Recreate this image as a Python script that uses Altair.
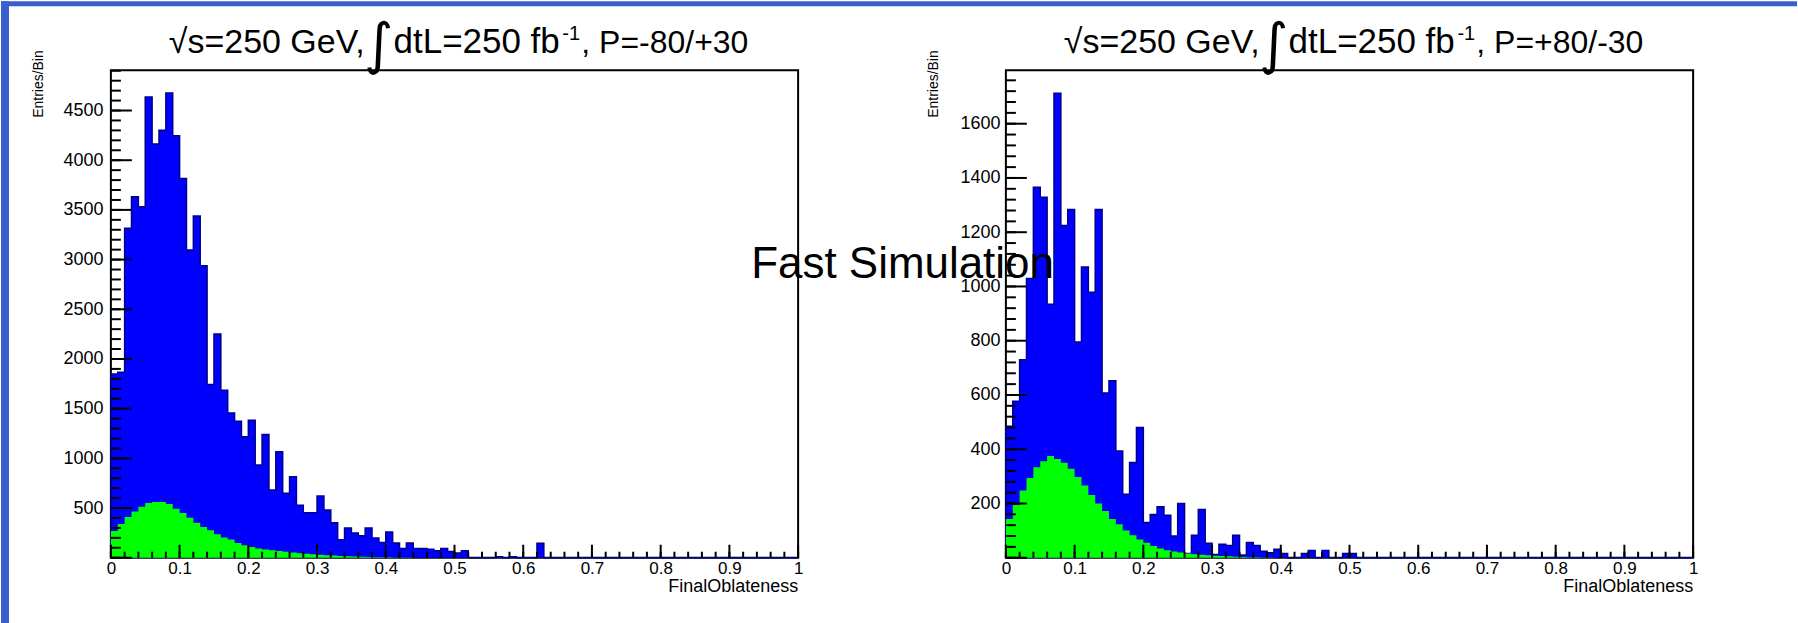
import altair as alt
import pandas as pd

# ---------------- data ----------------
n_bins = 100
x_range = [0.0, 1.0]

left_total = [1849, 1866, 3315, 3633, 3532, 4637, 4162, 4302, 4677, 4245,
              3817, 3097, 3439, 2937, 1742, 2251, 1685, 1457, 1374, 1217,
              1384, 932, 1240, 681, 1066, 648, 815, 527, 453, 453,
              621, 480, 353, 182, 299, 249, 222, 299, 199, 152,
              259, 149, 92, 149, 92, 92, 85, 69, 92, 62,
              48, 69, 0, 0, 0, 0, 10, 0, 10, 0,
              0, 0, 145, 0, 0, 0, 0, 0, 0, 0] + [0] * 30
left_signal = [270, 340, 410, 465, 512, 550, 562, 560, 540, 494,
               450, 403, 353, 309, 276, 236, 203, 183, 149, 126,
               109, 92, 82, 75, 68, 60, 52, 45, 40, 35,
               30, 26, 22, 18, 15, 12, 10, 8, 6, 5,
               4, 3, 2, 2, 1, 1] + [0] * 54

right_total = [485, 577, 730, 1029, 1366, 1329, 934, 1712, 1225, 1284,
               795, 1072, 979, 1284, 607, 652, 393, 234, 351, 480,
               130, 159, 188, 157, 80, 200, 16, 83, 178, 53,
               12, 50, 45, 83, 10, 56, 45, 24, 18, 31,
               16, 0, 0, 16, 27, 0, 27, 0, 0, 16,
               16] + [0] * 49
right_signal = [143, 194, 248, 294, 334, 356, 375, 364, 350, 328,
                298, 266, 231, 200, 172, 143, 123, 100, 83, 67,
                55, 43, 34, 28, 23, 19, 16, 13, 11, 9,
                7, 6, 5, 4, 3, 2, 2, 1, 1] + [0] * 61

left_ymax = 4905
right_ymax = 1797
left_ylabels = [500, 1000, 1500, 2000, 2500, 3000, 3500, 4000, 4500]
right_ylabels = [200, 400, 600, 800, 1000, 1200, 1400, 1600]
x_labels = [0, 0.1, 0.2, 0.3, 0.4, 0.5, 0.6, 0.7, 0.8, 0.9, 1]

left_title = ["√s=250 GeV,", "∫", "dtL=250 fb", "-1", ", P=-80/+30"]
right_title = ["√s=250 GeV,", "∫", "dtL=250 fb", "-1", ", P=+80/-30"]
x_title = ["FinalOblateness"]
y_title = ["Entries/Bin"]
overlay_text = ["Fast Simulation"]

# ---------------- styling ----------------
W, H = 688, 488
FONT = "Liberation Sans"
BLUE = "#0000ff"
NAVY = "#00008b"
GREEN = "#00ff00"
BORDER = "#3b5fcf"


def text_layer(s, x, y, size, align="left", baseline="alphabetic", angle=0, font=FONT):
    kw = dict(align=align, baseline=baseline, fontSize=size, font=font, color="black")
    if angle:
        kw["angle"] = angle
    return alt.Chart(pd.DataFrame({"t": [s]})).mark_text(**kw).encode(
        text="t:N", x=alt.value(x), y=alt.value(y))


def panel(total, signal, ymax, ylabels, y_minor, y_major, titles, label_pad, extra=None):
    edges = [i / n_bins for i in range(n_bins + 1)]
    area_df = pd.DataFrame({"x": edges,
                            "total": total + [total[-1]],
                            "signal": signal + [signal[-1]]})
    out_x = [0.0] + edges + [1.0]
    out_y = [0] + total + [total[-1], 0]
    outline_df = pd.DataFrame({"x": out_x, "y": out_y, "i": list(range(len(out_x)))})

    xs = alt.Scale(domain=x_range, nice=False, zero=False)
    ys = alt.Scale(domain=[0, ymax], nice=False)

    xaxis = alt.Axis(values=x_labels, format=".1~f", ticks=False, tickSize=0, domain=False,
                     grid=False, labelFont=FONT, labelFontSize=17, labelPadding=3,
                     labelColor="black", labelFlush=False, labelOverlap=False, title=None)
    yaxis = alt.Axis(values=ylabels, format="d", ticks=False, tickSize=0, domain=False,
                     grid=False, labelFont=FONT, labelFontSize=18, labelPadding=label_pad,
                     labelColor="black", labelOverlap=False, title=None)

    blue = alt.Chart(area_df).mark_area(interpolate="step-after", color=BLUE, opacity=1).encode(
        x=alt.X("x:Q", scale=xs, axis=xaxis),
        y=alt.Y("total:Q", scale=ys, axis=yaxis))
    outline = alt.Chart(outline_df).mark_line(interpolate="step-after", color=NAVY,
                                               strokeWidth=1.5).encode(
        x=alt.X("x:Q", scale=xs), y=alt.Y("y:Q", scale=ys), order="i:Q")
    green = alt.Chart(area_df).mark_area(interpolate="step-after", color=GREEN, opacity=1).encode(
        x=alt.X("x:Q", scale=xs), y=alt.Y("signal:Q", scale=ys))

    xminor = pd.DataFrame({"v": [i * 0.02 for i in range(51)]})
    xmajor = pd.DataFrame({"v": [i * 0.1 for i in range(11)]})
    yminor = pd.DataFrame({"v": [i * y_minor for i in range(int(ymax // y_minor) + 1)]})
    ymajor = pd.DataFrame({"v": [i * y_major for i in range(int(ymax // y_major) + 1)]})

    xt1 = alt.Chart(xminor).mark_rule(color="black", strokeWidth=2).encode(
        x=alt.X("v:Q", scale=xs), y=alt.value(H), y2=alt.value(H - 6))
    xt2 = alt.Chart(xmajor).mark_rule(color="black", strokeWidth=2).encode(
        x=alt.X("v:Q", scale=xs), y=alt.value(H), y2=alt.value(H - 13))
    yt1 = alt.Chart(yminor).mark_rule(color="black", strokeWidth=2).encode(
        y=alt.Y("v:Q", scale=ys), x=alt.value(0), x2=alt.value(10))
    yt2 = alt.Chart(ymajor).mark_rule(color="black", strokeWidth=2).encode(
        y=alt.Y("v:Q", scale=ys), x=alt.value(0), x2=alt.value(21))

    layers = [blue, outline, green, xt1, xt2, yt1, yt2,
              text_layer(titles[0], 254, -17, 34, align="right"),
              text_layer(titles[1], 268, -24, 56, align="center", baseline="middle",
                         font="DejaVu Sans"),
              text_layer(titles[2], 283, -17, 35, align="left"),
              text_layer(titles[3], 452, -30, 20, align="left"),
              text_layer(titles[4], 471, -17, 32, align="left"),
              text_layer(x_title[0], W, 522, 18, align="right"),
              text_layer(y_title[0], -72, -20, 14, align="right", baseline="middle", angle=270)]
    if extra is not None:
        layers += extra
    return alt.layer(*layers).properties(width=W, height=H)


border = [
    alt.Chart(pd.DataFrame({"a": [0]})).mark_rect(color=BORDER).encode(
        x=alt.value(-110), x2=alt.value(-102), y=alt.value(-69), y2=alt.value(554)),
    alt.Chart(pd.DataFrame({"a": [0]})).mark_rect(color=BORDER).encode(
        x=alt.value(-110), x2=alt.value(1688), y=alt.value(-69), y2=alt.value(-64)),
]

left = panel(left_total, left_signal, left_ymax, left_ylabels, 100, 500, left_title, 8,
             extra=border)
right = panel(right_total, right_signal, right_ymax, right_ylabels, 40, 200, right_title, 6,
              extra=[text_layer(overlay_text[0], -255, 208, 44, align="left")])

chart = alt.hconcat(left, right, spacing=208, bounds="flush").properties(
    padding=0,
    background="white",
).configure_view(stroke="black", strokeWidth=2)

chart.save("out.html", embed_options={"renderer": "svg", "actions": False})
